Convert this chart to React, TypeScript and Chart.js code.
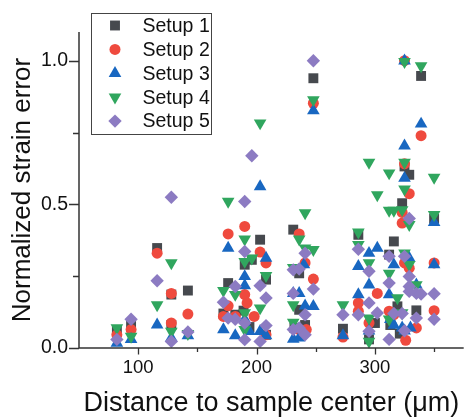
import React, { useEffect, useRef } from "react";
import { Chart, registerables } from "chart.js";

Chart.register(...registerables);

const seriesNames = ["Setup 1", "Setup 2", "Setup 3", "Setup 4", "Setup 5"];
const seriesColors = ["#46494e", "#ef4a3e", "#1867c1", "#30a65e", "#8c7bc2"];

const setup1: number[][] = [
  [82, 0.06], [94, 0.087], [116, 0.348], [128, 0.186], [128, 0.08], [142, 0.2],
  [172, 0.12], [176, 0.226], [182, 0.116], [189, 0.13], [190, 0.29], [194, 0.073],
  [196, 0.307], [203, 0.377], [208, 0.238], [208, 0.046], [231, 0.412], [232, 0.07],
  [236, 0.26], [236, 0.133], [241, 0.08], [248, 0.939], [273, 0.067], [286, 0.394],
  [295, 0.03], [300, 0.087], [312, 0.325], [313, 0.08], [316, 0.371], [319, 0.145],
  [321, 0.05], [323, 0.504], [325, 0.632], [329, 0.603], [335, 0.131], [339, 0.947],
  [350, 0.45],
];
const setup2: number[][] = [
  [82, 0.046], [94, 0.064], [116, 0.33], [128, 0.19], [128, 0.087], [142, 0.118],
  [172, 0.11], [176, 0.397], [176, 0.147], [182, 0.11], [190, 0.423], [190, 0.186],
  [192, 0.157], [198, 0.11], [203, 0.334], [208, 0.296], [208, 0.046], [236, 0.397],
  [236, 0.064], [241, 0.296], [242, 0.064], [248, 0.852], [248, 0.24], [273, 0.038],
  [286, 0.157], [286, 0.128], [295, 0.087], [302, 0.19], [312, 0.128], [316, 0.116],
  [323, 0.472], [323, 0.435], [325, 1.0], [325, 0.641], [325, 0.296], [326, 0.027],
  [329, 0.537], [329, 0.278], [335, 0.07], [339, 0.739], [350, 0.296], [350, 0.13],
];
const setup3: number[][] = [
  [82, 0.017], [94, 0.03], [116, 0.081], [128, 0.035], [142, 0.043], [172, 0.064],
  [176, 0.348], [182, 0.043], [190, 0.249], [190, 0.217], [190, 0.1], [194, 0.058],
  [203, 0.562], [203, 0.058], [208, 0.313], [208, 0.043], [231, 0.031], [231, 0.19],
  [236, 0.19], [236, 0.035], [240, 0.29], [241, 0.147], [248, 0.826], [248, 0.145],
  [273, 0.043], [286, 0.284], [286, 0.186], [295, 0.33], [295, 0.22], [295, 0.06],
  [302, 0.348], [312, 0.186], [313, 0.1], [316, 0.29], [316, 0.08], [323, 0.07],
  [325, 1.0], [325, 0.704], [325, 0.591], [325, 0.06], [329, 0.313], [330, 0.07],
  [335, 0.22], [339, 0.78], [350, 0.437], [350, 0.29],
];
const setup4: number[][] = [
  [82, 0.07], [94, 0.04], [116, 0.15], [128, 0.296], [128, 0.058], [142, 0.05],
  [172, 0.2], [176, 0.51], [182, 0.186], [190, 0.379], [190, 0.301], [190, 0.122],
  [190, 0.064], [196, 0.313], [203, 0.783], [203, 0.139], [208, 0.252], [231, 0.28],
  [231, 0.15], [231, 0.089], [236, 0.379], [241, 0.47], [241, 0.348], [248, 0.864],
  [248, 0.342], [273, 0.15], [286, 0.403], [286, 0.36], [295, 0.646], [295, 0.296],
  [295, 0.104], [295, 0.023], [302, 0.533], [312, 0.609], [312, 0.479], [312, 0.26],
  [312, 0.1], [316, 0.479], [319, 0.174], [323, 0.481], [323, 0.122], [325, 0.997],
  [325, 0.646], [325, 0.553], [325, 0.33], [329, 0.429], [329, 0.29], [335, 0.22],
  [339, 0.982], [350, 0.594], [350, 0.464],
];
const setup5: number[][] = [
  [82, 0.03], [94, 0.1], [116, 0.234], [128, 0.525], [128, 0.023], [142, 0.056],
  [172, 0.159], [176, 0.104], [182, 0.214], [182, 0.1], [190, 0.51], [190, 0.336],
  [190, 0.087], [190, 0.029], [196, 0.669], [203, 0.217], [203, 0.023], [208, 0.174],
  [208, 0.078], [231, 0.272], [231, 0.19], [231, 0.064], [236, 0.275], [236, 0.07],
  [241, 0.33], [241, 0.116], [241, 0.046], [248, 1.0], [248, 0.205], [273, 0.116],
  [286, 0.344], [286, 0.116], [295, 0.267], [295, 0.157], [295, 0.058], [302, 0.122],
  [312, 0.319], [312, 0.226], [312, 0.03], [316, 0.12], [323, 0.12], [325, 0.319],
  [325, 0.06], [329, 0.451], [329, 0.249], [329, 0.214], [329, 0.197], [335, 0.19],
  [335, 0.104], [339, 0.188], [350, 0.189], [350, 0.1],
];

const xMajorTicks = [100, 200, 300];
const xMinorTicks = [150, 250, 350];
const yMajorTicks = [0, 0.5, 1.0];
const yMinorTicks = [0.25, 0.75];

const xTitle = "Distance to sample center (\u03bcm)";
const yTitle = "Normalized strain error";

const FONT = "Arial, 'Liberation Sans', sans-serif";
const AXIS_COLOR = "#333333";

const styles = ["rect", "circle", "triangle", "triangle", "rectRot"];
const rotations = [0, 0, 0, 180, 0];
const radii = [7, 5.5, 7.3, 7.3, 6.7];

function drawMarker(ctx: CanvasRenderingContext2D, i: number, x: number, y: number) {
  ctx.save();
  ctx.fillStyle = seriesColors[i];
  ctx.beginPath();
  const r = radii[i];
  if (i === 0) {
    const s = r * Math.SQRT1_2;
    ctx.rect(x - s, y - s, 2 * s, 2 * s);
  } else if (i === 1) {
    ctx.arc(x, y, r, 0, Math.PI * 2);
  } else if (i === 2 || i === 3) {
    const dir = i === 2 ? 1 : -1;
    const h = (r * 3) / 2;
    const side = r * Math.sqrt(3);
    ctx.moveTo(x, y - dir * r);
    ctx.lineTo(x + side / 2, y + dir * (h - r));
    ctx.lineTo(x - side / 2, y + dir * (h - r));
    ctx.closePath();
  } else {
    ctx.moveTo(x, y - r);
    ctx.lineTo(x + r, y);
    ctx.lineTo(x, y + r);
    ctx.lineTo(x - r, y);
    ctx.closePath();
  }
  ctx.fill();
  ctx.restore();
}

const axesPlugin = {
  id: "customAxes",
  afterDraw(chart: any) {
    const ctx = chart.ctx as CanvasRenderingContext2D;
    const xs = chart.scales.x;
    const ys = chart.scales.y;
    const left = chart.chartArea.left;
    const right = chart.chartArea.right;
    const top = chart.chartArea.top;
    const bottom = chart.chartArea.bottom;
    ctx.save();
    ctx.strokeStyle = AXIS_COLOR;
    ctx.lineWidth = 1.5;
    ctx.beginPath();
    ctx.moveTo(left, top);
    ctx.lineTo(left, bottom);
    ctx.lineTo(right, bottom);
    ctx.stroke();
    ctx.lineWidth = 1.3;
    ctx.beginPath();
    for (const v of yMajorTicks) {
      const p = Math.round(ys.getPixelForValue(v)) + 0.5;
      ctx.moveTo(left - 10, p);
      ctx.lineTo(left, p);
    }
    for (const v of yMinorTicks) {
      const p = Math.round(ys.getPixelForValue(v)) + 0.5;
      ctx.moveTo(left - 6, p);
      ctx.lineTo(left, p);
    }
    for (const v of xMajorTicks) {
      const p = Math.round(xs.getPixelForValue(v)) + 0.5;
      ctx.moveTo(p, bottom);
      ctx.lineTo(p, bottom + 6.5);
    }
    for (const v of xMinorTicks) {
      const p = Math.round(xs.getPixelForValue(v)) + 0.5;
      ctx.moveTo(p, bottom);
      ctx.lineTo(p, bottom + 4);
    }
    ctx.stroke();

    // legend
    const lx = 91, ly = 13, lw = 120, lh = 121;
    ctx.fillStyle = "#ffffff";
    ctx.fillRect(lx, ly, lw, lh);
    ctx.strokeStyle = "#444444";
    ctx.lineWidth = 1;
    ctx.strokeRect(lx + 0.5, ly + 0.5, lw, lh);
    ctx.font = `19.5px ${FONT}`;
    ctx.textBaseline = "middle";
    ctx.textAlign = "left";
    for (let i = 0; i < seriesNames.length; i++) {
      const cy = 25.5 + i * 23.9;
      drawMarker(ctx, i, 115, cy);
      ctx.fillStyle = "#111111";
      ctx.fillText(seriesNames[i], 142.5, cy + 1);
    }
    ctx.restore();
  },
};

export default function App() {
  const canvasRef = useRef<HTMLCanvasElement | null>(null);

  useEffect(() => {
    document.body.style.margin = "0";
    const canvas = canvasRef.current;
    if (!canvas) return;
    const allSeries = [setup1, setup2, setup3, setup4, setup5];
    const chart = new Chart(canvas, {
      type: "scatter",
      data: {
        datasets: allSeries.map((s, i) => ({
          label: seriesNames[i],
          data: s.map(([x, y]) => ({ x, y })),
          pointStyle: styles[i] as any,
          rotation: rotations[i],
          pointRadius: radii[i],
          pointHoverRadius: radii[i],
          backgroundColor: seriesColors[i],
          borderColor: seriesColors[i],
          borderWidth: 0,
          order: 4 - i,
          clip: false as any,
        })),
      },
      options: {
        responsive: false,
        animation: false,
        events: [],
        layout: { padding: { top: 32, right: 1, left: 0, bottom: 0 } },
        plugins: {
          legend: { display: false },
          tooltip: { enabled: false },
        },
        scales: {
          x: {
            type: "linear",
            min: 50,
            max: 375,
            afterFit: (scale: any) => {
              scale.height = 70;
            },
            afterBuildTicks: (scale: any) => {
              scale.ticks = xMajorTicks.map((v) => ({ value: v }));
            },
            grid: { display: false, drawTicks: false },
            border: { display: false },
            ticks: {
              padding: 9,
              color: "#111111",
              font: { family: FONT, size: 18.5 },
              maxRotation: 0,
              callback: (v: any) => String(v),
            },
            title: {
              display: true,
              text: xTitle,
              color: "#111111",
              font: { family: FONT, size: 27, lineHeight: 1 },
              padding: { top: 0, bottom: 1 },
            },
          },
          y: {
            type: "linear",
            min: 0,
            max: 1.1,
            afterFit: (scale: any) => {
              scale.width = 79;
            },
            afterBuildTicks: (scale: any) => {
              scale.ticks = yMajorTicks.map((v) => ({ value: v }));
            },
            grid: { display: false, drawTicks: false },
            border: { display: false },
            ticks: {
              padding: 11,
              color: "#111111",
              font: { family: FONT, size: 19.5 },
              callback: (v: any) => Number(v).toFixed(1),
            },
            title: {
              display: true,
              text: yTitle,
              color: "#111111",
              font: { family: FONT, size: 26, lineHeight: 1 },
              padding: { top: 10, bottom: 0 },
            },
          },
        },
      },
      plugins: [axesPlugin],
    });
    return () => chart.destroy();
  }, []);

  return (
    <div style={{ position: "absolute", left: 0, top: 0, width: 471, height: 418, background: "#fff" }}>
      <canvas ref={canvasRef} width={471} height={418} />
    </div>
  );
}
